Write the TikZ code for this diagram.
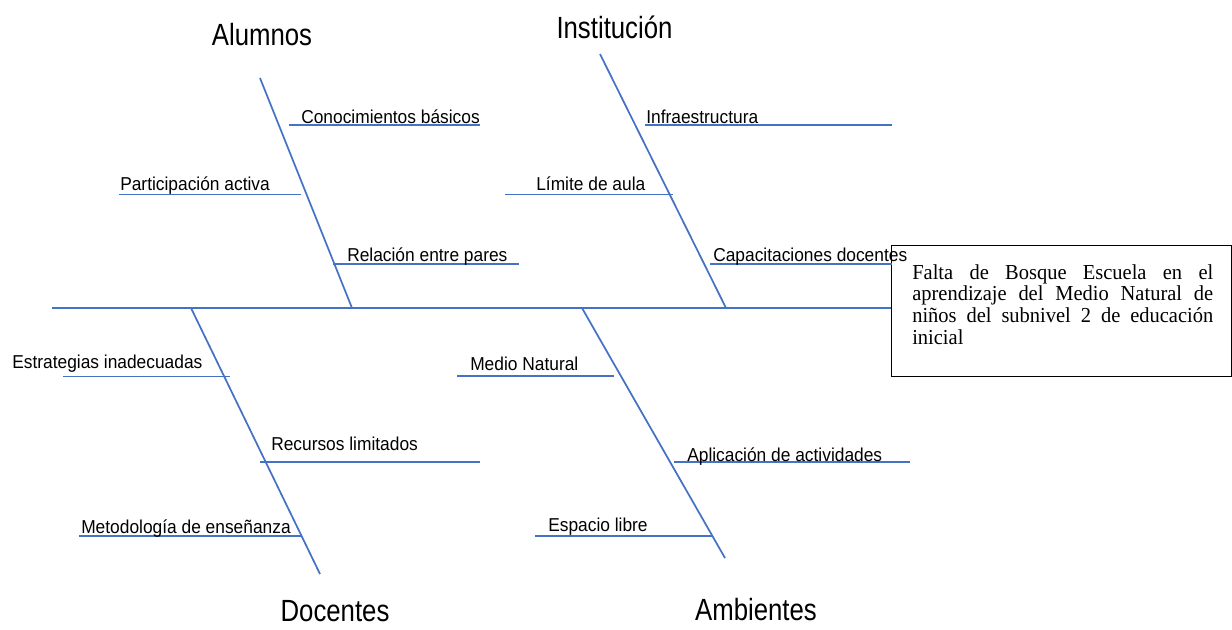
\documentclass[tikz,border=0pt]{standalone}
\usepackage{fontspec}
\setmainfont{Liberation Sans}
\newfontfamily\labfont[FakeStretch=0.93]{Liberation Sans}
\newfontfamily\catfont[FakeStretch=0.84]{Liberation Sans}
\newfontfamily\effont[FakeStretch=0.96]{Liberation Serif}
\definecolor{bonecol}{RGB}{68,114,196}
\tikzset{
  boneline/.style={draw=bonecol, line width=1.3pt},
  lab/.style={anchor=base west, inner sep=0pt, font=\labfont\fontsize{14}{16}\selectfont},
  cat/.style={anchor=base, inner sep=0pt, font=\catfont\fontsize{23}{26}\selectfont},
}
\begin{document}
\begin{tikzpicture}[x=0.75pt,y=-0.75pt]
\useasboundingbox (0,0) rectangle (1232,629);

% effect box
\node (effect) [draw=black, line width=0.7pt, anchor=north west, minimum width=255pt, minimum height=98.25pt, inner sep=0pt] at (891,245) {};
\node (efftext) [anchor=north west, inner sep=0pt, text width=225.75pt, align=justify,
  font=\effont\fontsize{16}{16.3}\selectfont] at (912,264)
  {Falta de Bosque Escuela en el\linebreak aprendizaje del Medio Natural de\linebreak niños del subnivel 2 de educación\linebreak inicial};

% spine
\coordinate (spineL) at (52,308);
\draw[boneline] (spineL) -- (spineL -| effect.west);

% main bones
\coordinate (aTop) at (260,78);   \coordinate (aBot) at (352,308);
\coordinate (iTop) at (600,54);   \coordinate (iBot) at (726,308);
\coordinate (dTop) at (191,308);  \coordinate (dBot) at (320,574);
\coordinate (mTop) at (582,308);  \coordinate (mBot) at (725,558);
\draw[boneline] (aTop) -- (aBot);
\draw[boneline] (iTop) -- (iBot);
\draw[boneline] (dTop) -- (dBot);
\draw[boneline] (mTop) -- (mBot);

% category labels
\node (alumnos) [cat] at (262,45) {Alumnos};
\node (instit) [cat] at (614.5,38) {Institución};
\node (docentes) [cat] at (335,621) {Docentes};
\node (ambientes) [cat] at (756,620) {Ambientes};

% Alumnos causes
\coordinate (c1a) at (289,125);   \coordinate (c1b) at (480,125);
\coordinate (c2a) at (119,194.5); \coordinate (c2b) at (301,194.5);
\coordinate (c3a) at (333,264);   \coordinate (c3b) at (519,264);
\draw[boneline] (c1a) -- (c1b);
\draw[boneline] (c2a) -- (c2b);
\draw[boneline] (c3a) -- (c3b);
\node (tc1) [lab] at (301,123) {Conocimientos básicos};
\node (tc2) [lab] at (120,190) {Participación activa};
\node (tc3) [lab] at (347,261.5) {Relación entre pares};

% Institucion causes
\coordinate (i1a) at (645,125);   \coordinate (i1b) at (892,125);
\coordinate (i2a) at (505,194.5); \coordinate (i2b) at (673,194.5);
\coordinate (i3a) at (710,264);   \coordinate (i3b) at (892,264);
\draw[boneline] (i1a) -- (i1b);
\draw[boneline] (i2a) -- (i2b);
\draw[boneline] (i3a) -- (i3b);
\node (ti1) [lab] at (646,123) {Infraestructura};
\node (ti2) [lab] at (536,190) {Límite de aula};
\node (ti3) [lab] at (713,261.5) {Capacitaciones docentes};

% Docentes causes
\coordinate (d1a) at (63,376.5);  \coordinate (d1b) at (230,376.5);
\coordinate (d2a) at (260,462);   \coordinate (d2b) at (480,462);
\coordinate (d3a) at (79,536);    \coordinate (d3b) at (301,536);
\draw[boneline] (d1a) -- (d1b);
\draw[boneline] (d2a) -- (d2b);
\draw[boneline] (d3a) -- (d3b);
\node (td1) [lab] at (12,368) {Estrategias inadecuadas};
\node (td2) [lab] at (271,450) {Recursos limitados};
\node (td3) [lab] at (81,533) {Metodología de enseñanza};

% Ambientes causes
\coordinate (m1a) at (457,376);   \coordinate (m1b) at (614,376);
\coordinate (m2a) at (674,462);   \coordinate (m2b) at (910,462);
\coordinate (m3a) at (535,536);   \coordinate (m3b) at (712,536);
\draw[boneline] (m1a) -- (m1b);
\draw[boneline] (m2a) -- (m2b);
\draw[boneline] (m3a) -- (m3b);
\node (tm1) [lab] at (470,370.5) {Medio Natural};
\node (tm2) [lab] at (687,461) {Aplicación de actividades};
\node (tm3) [lab] at (548,531) {Espacio libre};
\end{tikzpicture}
\end{document}
